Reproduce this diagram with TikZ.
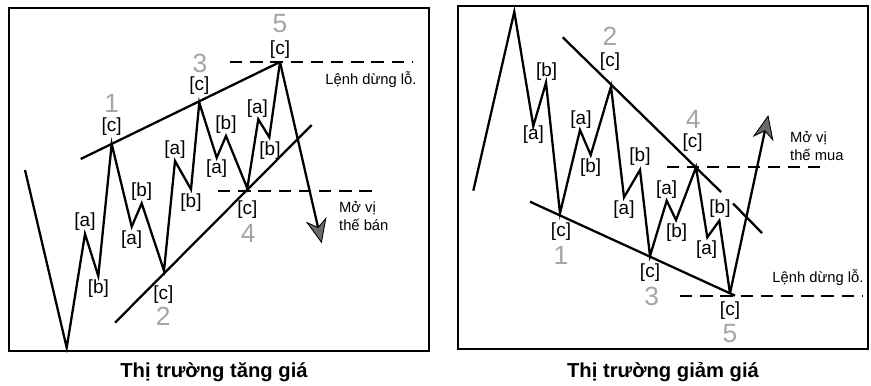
\documentclass[tikz,border=0pt]{standalone}
\usepackage{fontspec}
\setmainfont{Liberation Sans}
\usetikzlibrary{arrows.meta, positioning}
\definecolor{cgrey}{HTML}{A5A5A5}
\definecolor{ctip}{HTML}{6A6A6A}
\tikzset{
  every picture/.style={x=0.02cm, y=-0.02cm, line width=1.3pt},
  frame/.style={draw, line width=1.5pt},
  wave/.style={draw, line width=1.3pt},
  trend/.style={draw, line width=1.3pt},
  level/.style={draw, dash pattern=on 7pt off 4.5pt, line width=1.1pt},
  arrow/.style={-{Stealth[length=14pt, width=12pt, inset=4.5pt, fill=ctip, line width=0.5pt]}, line width=1.3pt},
  sub/.style={font=\fontsize{10.8}{12}\selectfont, inner sep=0.5pt},
  wnum/.style={font=\fontsize{15}{16}\selectfont, text=cgrey, inner sep=0pt},
  note/.style={font=\fontsize{8.4}{10}\selectfont, align=left, inner sep=0pt},
  title/.style={font=\bfseries\fontsize{11.5}{13}\selectfont},
}

\begin{document}
\begin{tikzpicture}
  \useasboundingbox (0,0) rectangle (871,385);
  \draw[frame] (9,8) rectangle (429,351);
  \draw[frame] (458,6) rectangle (868,349);
  % bull market
  \foreach \x/\y [count=\i from 0] in {25/170, 66.7/347.7, 85/234, 98.3/276, 111.7/144, 131.7/226.7, 141.7/203.3, 164/270.7, 175/161, 191/189.3, 199.3/102.7, 216.7/157.7, 226/136, 247.3/188.3, 258.3/119.3, 269.3/137.3, 280/62}
    \coordinate (u\i) at (\x,\y);
  \coordinate (utip) at (321.7,243.3);
  \coordinate (uhi) at (80.7,159);
  \coordinate (ulo) at (115,322.7);
  \coordinate (ulo2) at (311.7,125);
  \path[trend] (uhi) -- (u16);
  \path[trend] (ulo) -- (ulo2);
  \draw[wave] (u0) \foreach \i in {1,...,16} { -- (u\i) };
  \draw[arrow] (u16) -- (utip);
  \coordinate (ustop) at (230,61.7);
  \coordinate (ustop2) at (412,61.7);
  \coordinate (uent) at (218,191);
  \coordinate (uent2) at (372,191);
  \path[level] (ustop) -- (ustop2);
  \path[level] (uent) -- (uent2);
  \foreach \t/\x/\y [count=\i] in {[c]/111.7/126.7, [a]/85/222, [b]/98.3/288.3, [b]/141.7/191.7, [a]/131.7/240, [c]/163.3/295, [a]/175/149.3, [b]/191/202.7, [c]/199.3/86, [a]/216.7/168.3, [b]/226/125, [c]/247.3/210, [a]/257.3/108.3, [b]/270/150.7, [c]/280/50}
    \node[sub] (ul\i) at (\x,\y) {\t};
  \foreach \t/\x/\y in {1/111.7/103, 2/163.3/316.7, 3/200/63.3, 4/248.3/233.3, 5/280/23.3}
    \node[wnum] (un\t) at (\x,\y) {\t};
  \node[note] (ustopnote) at (371,80) {Lệnh dừng lỗ.};
  \node[note, anchor=west] (uentnote) at (338,216) {Mở vị\\thế bán};
  \node[title] (utitle) at (214,372) {Thị trường tăng giá};
  % bear market
  \foreach \x/\y [count=\i from 0] in {473.3/190.7, 514.3/11.7, 533.3/126, 546/82.7, 560/213.3, 580/130, 590.7/155, 611/86.5, 624/197.3, 640/170, 650/256, 666.7/200.7, 676/220, 696/167.3, 707.3/237.3, 719.3/220.7, 730/293.3}
    \coordinate (d\i) at (\x,\y);
  \coordinate (dtip) at (768.3,115);
  \coordinate (dhi) at (562.7,37.3);
  \coordinate (dhi2) at (721,192);
  \coordinate (dhi3) at (733,203.5);
  \coordinate (dhi4) at (762,233);
  \coordinate (dlo) at (530,201.7);
  \coordinate (dlo2) at (735,295.6);
  \path[trend] (dhi) -- (dhi2);
  \path[trend] (dhi3) -- (dhi4);
  \path[trend] (dlo) -- (dlo2);
  \draw[wave] (d0) \foreach \i in {1,...,16} { -- (d\i) };
  \draw[arrow] (d16) -- (dtip);
  \coordinate (dent) at (666.7,166.7);
  \coordinate (dent2) at (822,166.7);
  \coordinate (dstop) at (680,295.7);
  \coordinate (dstop2) at (862,295.7);
  \path[level] (dent) -- (dent2);
  \path[level] (dstop) -- (dstop2);
  \foreach \t/\x/\y [count=\i] in {[b]/546.7/71.7, [a]/533.3/135, [c]/561/231.7, [a]/581/119.3, [b]/590.7/167.3, [c]/610/61.7, [a]/624/209.3, [b]/640/156.7, [c]/650/272.7, [a]/666.7/189.3, [b]/676.7/232.7, [c]/692.7/142.7, [a]/706.7/250, [b]/720/208.3, [c]/730/310.7}
    \node[sub] (dl\i) at (\x,\y) {\t};
  \foreach \t/\x/\y in {1/561/255, 2/610/36.7, 3/651.7/296, 4/693.3/119.3, 5/730/333.3}
    \node[wnum] (dn\t) at (\x,\y) {\t};
  \node[note, anchor=west] (dentnote) at (789,146) {Mở vị\\thế mua};
  \node[note] (dstopnote) at (818,278) {Lệnh dừng lỗ.};
  \node[title] (dtitle) at (663,372) {Thị trường giảm giá};
\end{tikzpicture}
\end{document}
